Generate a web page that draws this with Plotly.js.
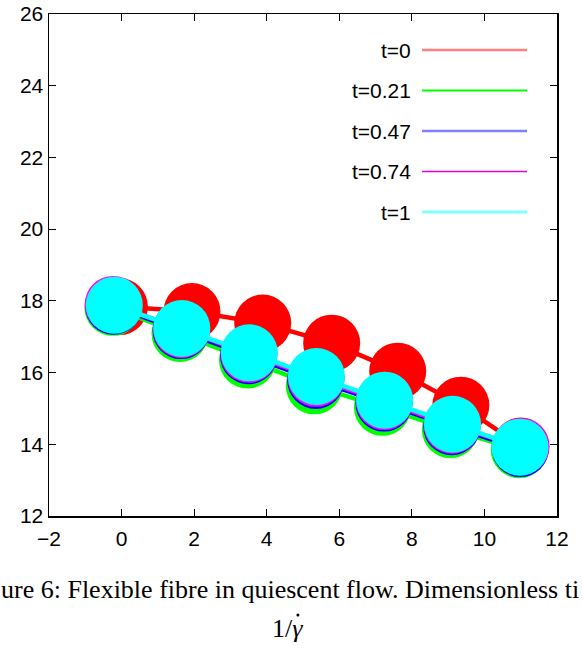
<!DOCTYPE html>
<html>
<head>
<meta charset="utf-8">
<script src="https://cdn.plot.ly/plotly-3.0.1.min.js"></script>
<style>html,body{margin:0;padding:0;background:#fff;}#chart{width:582px;height:648px;}</style>
</head>
<body>
<div id="chart"></div>
<script>
const seriesNames = ['t=0', 't=0.21', 't=0.47', 't=0.74', 't=1'];

const x_t0    = [-0.06, 1.94, 3.89, 5.79, 7.61, 9.35, 11.00];
const y_t0    = [17.84, 17.70, 17.38, 16.82, 16.04, 15.09, 13.95];
const x_t021  = [-0.24, 1.61, 3.47, 5.31, 7.19, 9.06, 10.96];
const y_t021  = [17.82, 17.09, 16.35, 15.63, 15.03, 14.41, 13.85];
const x_t047  = [-0.22, 1.64, 3.50, 5.35, 7.23, 9.10, 10.99];
const y_t047  = [17.85, 17.17, 16.47, 15.78, 15.15, 14.49, 13.88];
const x_t074  = [-0.23, 1.65, 3.51, 5.36, 7.24, 9.11, 11.01];
const y_t074  = [17.90, 17.20, 16.51, 15.84, 15.19, 14.53, 13.94];
const x_t1    = [-0.20, 1.66, 3.52, 5.37, 7.25, 9.12, 10.98];
const y_t1    = [17.88, 17.23, 16.55, 15.89, 15.23, 14.56, 13.92];

const xTicks = [-2, 0, 2, 4, 6, 8, 10, 12];
const yTicks = [12, 14, 16, 18, 20, 22, 24, 26];

const captionLine1 = 'ure 6: Flexible fibre in quiescent flow. Dimensionless ti';
const captionLine2 = '1/<i>γ</i>';

const xs = [x_t0, x_t021, x_t047, x_t074, x_t1];
const ys = [y_t0, y_t021, y_t047, y_t074, y_t1];
const colors = ['#ff0000', '#00ff00', '#0000ff', '#ff00ff', '#00ffff'];
const legendColors = ['#ff8080', '#00ff00', '#8080ff', '#e000e0', '#80ffff'];
const legendWidths = [2.5, 2, 2.5, 1.5, 3];

const W = 582, H = 648;
const M = {l: 49, r: 25, t: 14, b: 132};
const PW = W - M.l - M.r, PH = H - M.t - M.b;
const px2x = p => (p - M.l) / PW;
const px2y = p => 1 - (p - M.t) / PH;

const traces = seriesNames.map((name, i) => ({
  type: 'scatter', mode: 'lines+markers', name: name,
  x: xs[i], y: ys[i],
  line: {color: colors[i], width: 4.5},
  marker: {color: colors[i], size: 57, line: {width: 0}},
  hoverinfo: 'skip', showlegend: false
}));

const annotations = [];
const shapes = [];
seriesNames.forEach((name, i) => {
  const rowY = 50 + 40.5 * i;
  annotations.push({
    xref: 'paper', yref: 'paper', x: px2x(413), y: px2y(rowY),
    xanchor: 'right', yanchor: 'middle', showarrow: false, text: name,
    font: {family: 'Liberation Sans, Arial, sans-serif', size: 21, color: '#000'}
  });
  shapes.push({
    type: 'line', xref: 'paper', yref: 'paper',
    x0: px2x(422), x1: px2x(527), y0: px2y(rowY), y1: px2y(rowY),
    line: {color: legendColors[i], width: legendWidths[i]}
  });
});

const serif = 'Liberation Serif, Times New Roman, serif';
annotations.push({
  xref: 'paper', yref: 'paper', x: px2x(-1), y: px2y(589),
  xanchor: 'left', yanchor: 'middle', showarrow: false,
  text: captionLine1,
  font: {family: serif, size: 26, color: '#000'}
});
annotations.push({
  xref: 'paper', yref: 'paper', x: px2x(287), y: px2y(628),
  xanchor: 'center', yanchor: 'middle', showarrow: false,
  text: captionLine2,
  font: {family: serif, size: 26, color: '#000'}
});
// dot accent over gamma (drawn as a small filled circle)
shapes.push({
  type: 'circle', xref: 'paper', yref: 'paper',
  x0: px2x(296.4), x1: px2x(299.4), y0: px2y(613.5), y1: px2y(616.5),
  fillcolor: '#000', line: {width: 0}
});

const axisCommon = {
  showgrid: false, zeroline: false, showline: true, mirror: 'ticks',
  linecolor: '#000', linewidth: 1.5, ticks: 'inside', ticklen: 7,
  tickwidth: 1.2, tickcolor: '#000',
  tickfont: {family: 'Liberation Sans, Arial, sans-serif', size: 21, color: '#000'}
};

const layout = {
  width: W, height: H, margin: M,
  paper_bgcolor: '#fff', plot_bgcolor: '#fff', showlegend: false,
  xaxis: Object.assign({}, axisCommon, {range: [-2, 12], tickvals: xTicks, ticklabelstandoff: 3}),
  yaxis: Object.assign({}, axisCommon, {range: [12, 26], tickvals: yTicks}),
  annotations: annotations, shapes: shapes
};

Plotly.newPlot('chart', traces, layout, {staticPlot: true, displayModeBar: false});
</script>
</body>
</html>
